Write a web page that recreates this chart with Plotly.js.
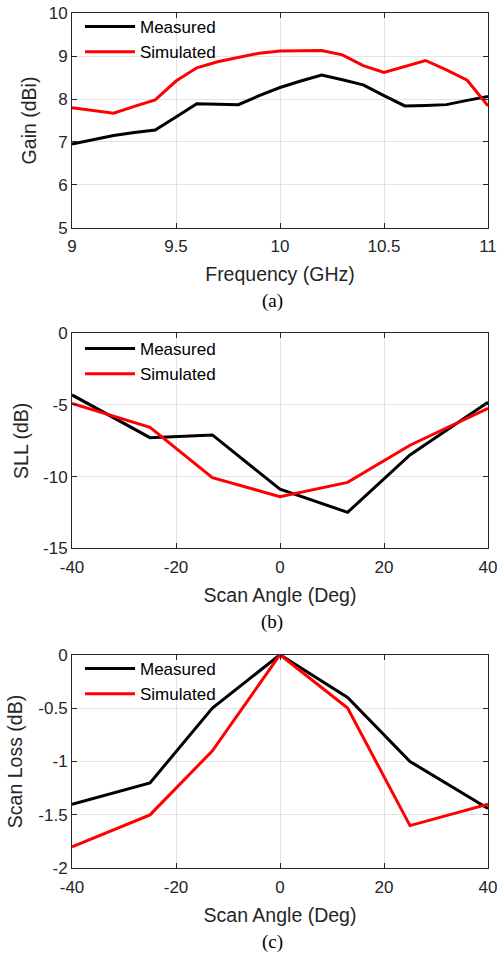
<!DOCTYPE html>
<html><head><meta charset="utf-8">
<script src="https://cdn.plot.ly/plotly-3.0.1.min.js"></script>
<style>body{margin:0;padding:0;background:#fff}#c{width:497px;height:954px}</style>
</head><body><div id="c"></div>
<script>
// Panel (a) Gain vs Frequency
const freq = [9.0,9.1,9.2,9.3,9.4,9.5,9.6,9.7,9.8,9.9,10.0,10.1,10.2,10.3,10.4,10.5,10.6,10.7,10.8,10.9,11.0];
const gainMeasured = [6.95,7.05,7.15,7.22,7.28,7.58,7.89,7.88,7.87,8.08,8.27,8.42,8.56,8.45,8.33,8.08,7.84,7.85,7.87,7.97,8.06];
const gainSimulated = [7.80,7.73,7.67,7.83,7.98,8.42,8.73,8.87,8.97,9.07,9.12,9.13,9.13,9.03,8.78,8.62,8.76,8.90,8.68,8.44,7.84];
// Panel (b) SLL vs Scan angle
const angle = [-40,-25,-13,0,13,25,40];
const sllMeasured = [-4.3,-7.28,-7.09,-10.88,-12.49,-8.49,-4.81];
const sllSimulated = [-4.9,-6.56,-10.07,-11.4,-10.4,-7.81,-5.23];
// Panel (c) Scan loss vs Scan angle
const lossMeasured = [-1.40,-1.20,-0.50,0,-0.40,-1.00,-1.44];
const lossSimulated = [-1.80,-1.50,-0.90,0,-0.50,-1.60,-1.40];
const seriesNames = ['Measured','Simulated'];
const captions = ['(a)','(b)','(c)'];
// Tick labels (hyphen minus as in the reference)
const angleTicks = [-40,-20,0,20,40];
const angleTickText = ['-40','-20','0','20','40'];
const sllTicks = [-15,-10,-5,0];
const sllTickText = ['-15','-10','-5','0'];
const lossTicks = [-2,-1.5,-1,-0.5,0];
const lossTickText = ['-2','-1.5','-1','-0.5','0'];

const FONT = 'Arial, "Liberation Sans", sans-serif';
const black = '#000000', red = '#ff0000';
function tr(x,y,name,color,xa,ya,leg){
  return {x:x,y:y,name:name,type:'scatter',mode:'lines',line:{color:color,width:3},xaxis:xa,yaxis:ya,legend:leg};
}
const data = [
  tr(freq,gainMeasured,seriesNames[0],black,'x','y','legend'),
  tr(freq,gainSimulated,seriesNames[1],red,'x','y','legend'),
  tr(angle,sllMeasured,seriesNames[0],black,'x2','y2','legend2'),
  tr(angle,sllSimulated,seriesNames[1],red,'x2','y2','legend2'),
  tr(angle,lossMeasured,seriesNames[0],black,'x3','y3','legend3'),
  tr(angle,lossSimulated,seriesNames[1],red,'x3','y3','legend3')
];
const W=497,H=954;
const xd=[72/W,488/W];
function yd(top,bot){return [1-bot/H,1-top/H];}
const common = {showgrid:true,gridcolor:'#e3e3e3',gridwidth:1,
    showline:true,linecolor:'#262626',linewidth:1,mirror:'ticks',ticks:'inside',ticklen:5,tickcolor:'#262626',
    zeroline:false,tickfont:{family:FONT,size:17,color:'#262626'},ticklabeloverflow:'allow'};
function ticksOf(vals,txt){ return vals ? {tickmode:'array',tickvals:vals,ticktext:txt} : {}; }
function xax(range,dtick,title,anchor,vals,txt){
  return Object.assign({domain:xd,range:range,dtick:dtick,tick0:range[0],anchor:anchor,ticklabelstandoff:3,
    title:{text:title,font:{family:FONT,size:19.5,color:'#262626'},standoff:12}},common,ticksOf(vals,txt));
}
function yax(range,dtick,title,dom,anchor,standoff,vals,txt){
  return Object.assign({domain:dom,range:range,dtick:dtick,tick0:range[0],anchor:anchor,
    title:{text:title,font:{family:FONT,size:19.5,color:'#262626'},standoff:standoff}},common,ticksOf(vals,txt));
}
function leg(topPx){
  return {x:80/W,y:1-topPx/H,xanchor:'left',yanchor:'top',bgcolor:'rgba(0,0,0,0)',borderwidth:0,
    font:{family:FONT,size:17,color:'#000'},tracegroupgap:0,itemwidth:50};
}
const layout = {
  width:W,height:H,margin:{l:0,r:0,t:0,b:0},paper_bgcolor:'#fff',plot_bgcolor:'#fff',
  showlegend:true,
  xaxis:xax([9,11],0.5,'Frequency (GHz)','y'),
  yaxis:yax([5,10],1,'Gain (dBi)',yd(13.3,227.7),'x',6),
  xaxis2:xax([-40,40],20,'Scan Angle (Deg)','y2',angleTicks,angleTickText),
  yaxis2:yax([-15,0],5,'SLL (dB)',yd(333.3,548.3),'x2',9,sllTicks,sllTickText),
  xaxis3:xax([-40,40],20,'Scan Angle (Deg)','y3',angleTicks,angleTickText),
  yaxis3:yax([-2,0],0.5,'Scan Loss (dB)',yd(654.7,868.3),'x3',10,lossTicks,lossTickText),
  legend:leg(9),legend2:leg(331),legend3:leg(651),
  annotations:[
    {text:captions[0],x:272/W,y:1-301/H},
    {text:captions[1],x:272/W,y:1-622/H},
    {text:captions[2],x:272/W,y:1-942/H}
  ].map(a=>Object.assign(a,{xref:'paper',yref:'paper',showarrow:false,xanchor:'center',yanchor:'middle',
    font:{family:'"Times New Roman","Liberation Serif",serif',size:19,color:'#000'}}))
};
Plotly.newPlot('c',data,layout,{displayModeBar:false,staticPlot:true});
</script></body></html>
